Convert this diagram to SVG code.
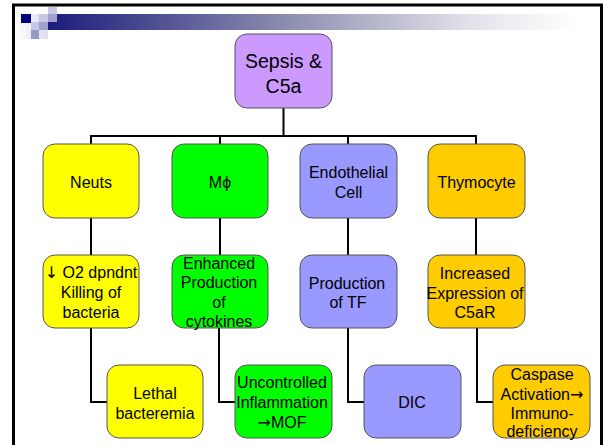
<svg xmlns="http://www.w3.org/2000/svg" width="603" height="445" viewBox="0 0 603 445">
<defs>
<linearGradient id="bar" x1="0" y1="0" x2="1" y2="0">
<stop offset="0" stop-color="#1c1c7c"/>
<stop offset="0.45" stop-color="#8c8cae"/>
<stop offset="0.8" stop-color="#e2e2ea"/>
<stop offset="1" stop-color="#ffffff"/>
</linearGradient>
<linearGradient id="wash" x1="0" y1="0" x2="1" y2="0">
<stop offset="0" stop-color="#ffffff"/>
<stop offset="1" stop-color="#dcdcee"/>
</linearGradient>
</defs>
<style>
.box{stroke:#555;stroke-width:1}
.y{fill:#ffff00}.g{fill:#00ff00}.b{fill:#9999ff}.o{fill:#ffcc00}.p{fill:#cc99ff}
text{font-family:"Liberation Sans",Arial,sans-serif;font-size:16px;fill:#000;text-anchor:middle}
.big{font-size:19.5px}
.ar{font-family:"DejaVu Sans",sans-serif}
.con path{fill:none;stroke:#000;stroke-width:2}
</style>
<rect width="603" height="445" fill="#fff"/>
<g id="frame">
<path d="M13.5 445 V5 H601.5 V445" fill="none" stroke="#000" stroke-width="3"/>
</g>
<g id="header">
<rect x="15" y="14" width="33" height="25" fill="url(#wash)"/>
<rect x="48" y="14" width="527" height="16" fill="url(#bar)"/>
<rect x="21" y="14" width="10" height="9" fill="#000080"/>
<rect x="39" y="14" width="9" height="8" fill="#c8c8e6"/>
<rect x="48" y="7" width="9" height="7" fill="#c8c8e6"/>
<rect x="48" y="14" width="9" height="8" fill="#a0a0d0"/>
<rect x="31" y="22" width="8" height="8" fill="#c8c8e6"/>
<rect x="39" y="22" width="9" height="8" fill="#a0a0d0"/>
<rect x="31" y="30" width="8" height="9" fill="#9898c8"/>
</g>
<g class="con" id="connectors">
<path d="M283.5 108 V136 M91 144 V136 H476 V144 M220 136 V144 M348 136 V144"/>
<path d="M91 218 V255 M220 218 V255 M348 218 V255 M476 218 V255"/>
<path d="M91 328 V402 H107 M219 328 V402 H235 M348 328 V402 H364 M477 328 V402 H493"/>
</g>
<g id="sepsis">
<rect class="box p" x="235" y="34" width="97" height="74" rx="12"/>
<text class="big" x="283.5" y="68">Sepsis &amp;</text>
<text class="big" x="283.5" y="93">C5a</text>
</g>
<g id="neuts">
<rect class="box y" x="43" y="144" width="96" height="74" rx="12"/>
<text x="91" y="187.5">Neuts</text>
</g>
<g id="mphi">
<rect class="box g" x="172" y="144" width="96" height="74" rx="12"/>
<text x="220" y="187.5">Mϕ</text>
</g>
<g id="endothelial">
<rect class="box b" x="300" y="144" width="97" height="74" rx="12"/>
<text x="348.5" y="177.5">Endothelial</text>
<text x="348.5" y="197.5">Cell</text>
</g>
<g id="thymocyte">
<rect class="box o" x="428" y="144" width="97" height="74" rx="12"/>
<text x="476.5" y="187.5">Thymocyte</text>
</g>
<g id="killing">
<rect class="box y" x="43" y="255" width="96" height="73" rx="12"/>
<text x="91" y="277.5"><tspan class="ar">↓</tspan> O2 dpndnt</text>
<text x="91" y="297.5">Killing of</text>
<text x="91" y="317.5">bacteria</text>
</g>
<g id="cytokines">
<rect class="box g" x="172" y="255" width="96" height="73" rx="12"/>
<text x="219" y="268.5">Enhanced</text>
<text x="219" y="288">Production</text>
<text x="219" y="307.5">of</text>
<text x="219" y="326.5">cytokines</text>
</g>
<g id="tf">
<rect class="box b" x="300" y="255" width="97" height="73" rx="12"/>
<text x="347" y="288.5">Production</text>
<text x="348" y="308">of TF</text>
</g>
<g id="c5ar">
<rect class="box o" x="428" y="255" width="97" height="73" rx="12"/>
<text x="475" y="278.5">Increased</text>
<text x="475" y="298.5">Expression of</text>
<text x="475" y="317.5">C5aR</text>
</g>
<g id="lethal">
<rect class="box y" x="107" y="365" width="96" height="73" rx="12"/>
<text x="155" y="398.5">Lethal</text>
<text x="155" y="418.5">bacteremia</text>
</g>
<g id="mof">
<rect class="box g" x="235" y="365" width="97" height="73" rx="12"/>
<text x="282" y="387.5">Uncontrolled</text>
<text x="282" y="407.5">Inflammation</text>
<text x="282" y="427.5"><tspan class="ar">→</tspan>MOF</text>
</g>
<g id="dic">
<rect class="box b" x="364" y="365" width="97" height="73" rx="12"/>
<text x="412" y="407.5">DIC</text>
</g>
<g id="caspase">
<rect class="box o" x="493" y="365" width="97" height="73" rx="12"/>
<text x="542" y="379.5">Caspase</text>
<text x="542" y="399.5">Activation<tspan class="ar">→</tspan></text>
<text x="542" y="418.5">Immuno-</text>
<text x="542" y="436.5">deficiency</text>
</g>
</svg>
